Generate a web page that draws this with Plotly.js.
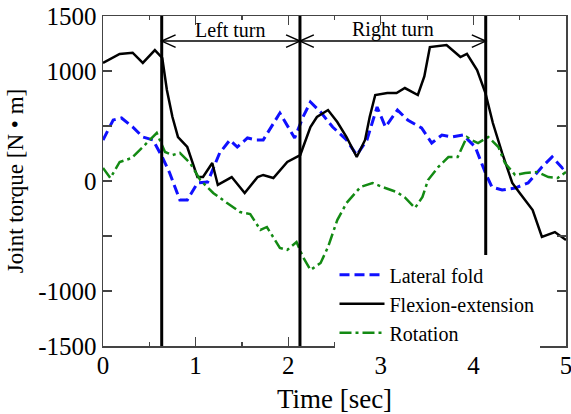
<!DOCTYPE html>
<html>
<head>
<meta charset="utf-8">
<script src="https://cdn.plot.ly/plotly-3.0.1.min.js"></script>
<style>html,body{margin:0;padding:0;background:#fff;}#chart{width:571px;height:414px;}</style>
</head>
<body>
<div id="chart"></div>
<script>
// Flexion-extension (black)
const flexT = [0.00,0.18,0.32,0.43,0.56,0.64,0.69,0.75,0.81,0.91,1.02,1.08,1.18,1.24,1.39,1.53,1.67,1.73,1.84,1.99,2.13,2.24,2.31,2.43,2.53,2.63,2.74,2.83,2.88,2.94,3.07,3.17,3.26,3.40,3.47,3.53,3.71,3.86,3.93,4.04,4.13,4.21,4.31,4.42,4.50,4.64,4.74,4.88,5.00];
const flexV = [1073,1155,1166,1073,1190,1118,827,582,400,309,36,36,164,-36,36,-109,36,55,27,173,236,491,582,645,536,400,218,373,582,782,800,800,845,782,950,1218,1236,1127,1155,1009,800,527,255,-18,-109,-264,-509,-464,-536];
// Lateral fold (blue)
const latT = [0.00,0.11,0.20,0.32,0.43,0.54,0.64,0.72,0.83,0.91,1.02,1.13,1.26,1.37,1.45,1.56,1.66,1.73,1.91,2.07,2.16,2.24,2.35,2.48,2.63,2.74,2.85,2.96,3.05,3.18,3.29,3.44,3.55,3.66,3.77,3.89,4.02,4.13,4.20,4.31,4.45,4.59,4.74,4.85,4.96,5.00];
const latV = [373,555,573,491,400,373,218,73,-173,-173,-18,-9,255,373,309,391,373,373,618,391,582,718,627,491,373,236,373,673,491,645,555,482,345,418,400,418,309,73,-55,-82,-64,-18,127,218,118,145];
// Rotation (green)
const rotT = [0.00,0.08,0.18,0.31,0.43,0.58,0.67,0.75,0.83,0.94,1.05,1.19,1.34,1.48,1.59,1.70,1.77,1.91,1.99,2.09,2.16,2.24,2.35,2.43,2.53,2.63,2.78,2.91,3.02,3.17,3.26,3.37,3.45,3.51,3.62,3.73,3.83,3.93,3.98,4.05,4.16,4.27,4.34,4.45,4.56,4.69,4.81,4.91,5.00];
const rotV = [118,27,173,209,309,436,264,236,255,164,9,-109,-200,-282,-300,-445,-418,-609,-627,-555,-691,-809,-745,-600,-355,-200,-55,-18,-55,-100,-150,-245,-145,9,127,218,218,400,373,345,400,309,164,55,73,82,36,27,82];
// Turn boundaries [sec]
const turnBounds = [0.634, 2.127, 4.133];
const turnLabels = ['Left turn', 'Right turn'];
const xTickVals = [0,1,2,3,4,5];
const yTickVals = [-1500,-1000,-500,0,500,1000,1500];
const yTickText = ['-1500','-1000','','0','','1000','1500'];

const serif = 'Liberation Serif, Times New Roman, serif';

const traces = [
  {x: latT, y: latV, name: 'Lateral fold', mode: 'lines', line: {color: '#1010ff', width: 3, dash: '10px,5px'}},
  {x: flexT, y: flexV, name: 'Flexion-extension', mode: 'lines', line: {color: '#000000', width: 2.5}},
  {x: rotT, y: rotV, name: 'Rotation', mode: 'lines', line: {color: '#138a13', width: 2.5, dash: '12px,4px,3px,4px'}}
];

const shapes = [];
turnBounds.forEach(t => {
  shapes.push({type: 'line', xref: 'x', yref: 'paper', x0: t, x1: t, y0: 0, y1: 1, line: {color: '#000', width: 3}});
});
const arrowY = 0.924, hx = 0.15, hy = 0.019;
for (let i = 0; i < turnLabels.length; i++) {
  const a = turnBounds[i], b = turnBounds[i+1];
  shapes.push({type: 'line', xref: 'x', yref: 'paper', x0: a, x1: b, y0: arrowY, y1: arrowY, line: {color: '#000', width: 1.5}});
  shapes.push({type: 'path', xref: 'x', yref: 'paper', path: `M${a+hx},${arrowY+hy} L${a},${arrowY} L${a+hx},${arrowY-hy}`, line: {color: '#000', width: 1.5}});
  shapes.push({type: 'path', xref: 'x', yref: 'paper', path: `M${b-hx},${arrowY+hy} L${b},${arrowY} L${b-hx},${arrowY-hy}`, line: {color: '#000', width: 1.5}});
}
const annotations = turnLabels.map((s, i) => ({
  text: s, xref: 'x', yref: 'paper', x: (turnBounds[i] + turnBounds[i+1]) / 2, y: 0.958,
  showarrow: false, font: {family: serif, size: 20, color: '#000'}, xanchor: 'center', yanchor: 'middle'
}));

const nb = '\u00a0'.repeat(9);

const layout = {
  width: 571, height: 414,
  margin: {l: 103, r: 5, t: 16, b: 68},
  paper_bgcolor: '#fff', plot_bgcolor: '#fff',
  font: {family: serif, color: '#000'},
  showlegend: true,
  legend: {x: 0.50, y: 0.275, xanchor: 'left', yanchor: 'top', bgcolor: '#fff', borderwidth: 0,
           font: {family: serif, size: 20, color: '#000'}, itemwidth: 45, tracegroupgap: 0},
  xaxis: {range: [0, 5], tickvals: xTickVals, ticks: 'inside', ticklen: 9, tickwidth: 1.2, tickcolor: '#444',
          minor: {dtick: 0.5, ticks: 'inside', ticklen: 4, tickwidth: 1.2, tickcolor: '#444'},
          showline: true, linecolor: '#444', linewidth: 1.5, mirror: 'ticks', showgrid: false, zeroline: false,
          ticklabeloverflow: 'allow', ticklabelstandoff: -4,
          tickfont: {family: serif, size: 25, color: '#000'},
          title: {text: 'Time [sec]', font: {family: serif, size: 27, color: '#000'}, standoff: 12}},
  yaxis: {range: [-1500, 1500], tickvals: yTickVals, ticktext: yTickText, ticks: 'inside', ticklen: 9, tickwidth: 1.2, tickcolor: '#444',
          minor: {dtick: 500, ticks: 'inside', ticklen: 5, tickwidth: 1.2, tickcolor: '#444'},
          showline: true, linecolor: '#444', linewidth: 1.5, mirror: 'ticks', showgrid: false, zeroline: false,
          tickfont: {family: serif, size: 25, color: '#000'},
          title: {text: 'Joint torque [N • m]' + nb, font: {family: serif, size: 23, color: '#000'}, standoff: 8}},
  shapes: shapes,
  annotations: annotations
};

Plotly.newPlot('chart', traces, layout, {displayModeBar: false, staticPlot: true});
</script>
</body>
</html>
